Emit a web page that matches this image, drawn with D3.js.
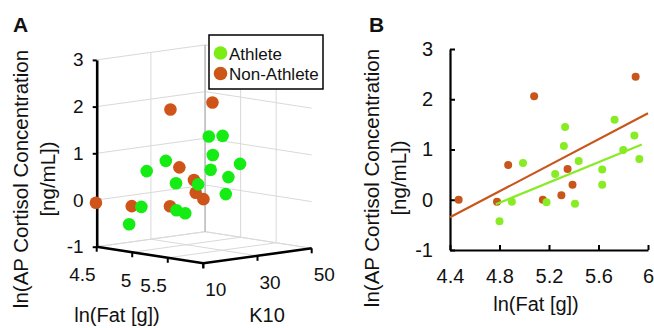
<!DOCTYPE html>
<html>
<head>
<meta charset="utf-8">
<script src="https://cdn.jsdelivr.net/npm/d3@7"></script>
<style>
  body { margin: 0; background: #fff; }
  text { font-family: "Liberation Sans", Arial, sans-serif; fill: #111; }
</style>
</head>
<body>
<div id="chart"></div>
<script>
// panel B data (ln fat, ln cortisol)
const athleteFat = [4.80, 4.90, 4.99, 5.18, 5.25, 5.32, 5.33, 5.41, 5.44, 5.63, 5.63, 5.73, 5.80, 5.89, 5.93];
const athleteCort = [-0.43, -0.04, 0.73, -0.05, 0.51, 1.07, 1.45, -0.08, 0.77, 0.60, 0.30, 1.59, 0.99, 1.28, 0.81];
const nonAthleteFat = [4.47, 4.78, 4.87, 5.08, 5.15, 5.30, 5.35, 5.39, 5.90];
const nonAthleteCort = [0.00, -0.04, 0.69, 2.06, 0.00, 0.09, 0.61, 0.30, 2.45];

// panel A data (same subjects, with K10 score)
const athleteK10 = [14.1, 16.0, 15.6, 21.6, 19.6, 14.0, 29.6, 18.8, 27.4, 17.8, 28.0, 24.2, 28.8, 16.4, 21.1];
const athleteCort3d = [-0.48, -0.10, 0.69, -0.15, 0.46, 1.00, 1.40, -0.14, 0.73, 0.54, 0.25, 1.55, 0.93, 1.24, 0.74];
const nonAthleteK10 = [10.5, 15.6, 30.8, 22.0, 20.0, 28.4, 23.6, 23.2, 16.0];
const nonAthleteCort3d = [-0.07, -0.11, 0.62, 1.98, -0.06, 0.06, 0.52, 0.26, 2.37];

// fitted lines, end points
const athleteFitX = [4.77, 5.95];
const athleteFitY = [-0.09, 1.10];
const nonAthleteFitX = [4.40, 6.00];
const nonAthleteFitY = [-0.35, 1.72];

const cortTicks = [-1, 0, 1, 2, 3];
const fatTicks3d = [4.5, 5, 5.5, 6];
const fatTickLabels3d = ["4.5", "5", "5.5", ""];
const k10Ticks = [10, 30, 50];
const fatTicksB = [4.4, 4.8, 5.2, 5.6, 6];
const legendLabels = ["Athlete", "Non-Athlete"];

const cGreenA = "#14ec14", cOrangeA = "#cf5419", cGreenB = "#88ec24", cOrangeB = "#c8561a";
const cLegend = ["#7aee12", "#cc5518"];

const svg = d3.select("#chart").append("svg")
    .attr("width", 654).attr("height", 328);

// ---------- panel A : 3D scatter ----------
const uScale = d3.scaleLinear().domain([4.5, 6]).range([0, 1]);
const vScale = d3.scaleLinear().domain([10, 50]).range([0, 1]);
const zScale = d3.scaleLinear().domain([-1, 3]).range([246.7, 59.9]);

function proj(f, k, c) {
    const u = uScale(f), v = vScale(k);
    return [96.7 + 106.6 * u + 108.4 * v, zScale(c) + 16.6 * u - 15 * v];
}
const line3d = pts => "M" + pts.map(p => proj(p[0], p[1], p[2]).join(",")).join("L");
const plain = d => String(d);   // hyphen minus, like the original

const gA = svg.append("g");
const grid = gA.append("g").attr("fill", "none").attr("stroke", "#d9d9d9").attr("stroke-width", 1);

// back walls and floor grid
cortTicks.forEach(c => {
    grid.append("path").attr("d", line3d([[4.5, 10, c], [4.5, 50, c], [6, 50, c]]));
});
k10Ticks.forEach(k => {
    grid.append("path").attr("d", line3d([[4.5, k, -1], [4.5, k, 3]]));
    grid.append("path").attr("d", line3d([[4.5, k, -1], [6, k, -1]]));
});
fatTicks3d.slice(1, 3).forEach(f => {
    grid.append("path").attr("d", line3d([[f, 50, -1], [f, 50, 3]]));
});
fatTicks3d.forEach(f => {
    grid.append("path").attr("d", line3d([[f, 10, -1], [f, 50, -1]]));
});
grid.append("path").attr("d", line3d([[4.5, 50, -1], [4.5, 50, 3]]))
    .attr("stroke", "#bcbcbc").attr("stroke-width", 1.5);

// z axis
const zAxis = d3.axisLeft(zScale).tickValues(cortTicks).tickFormat(plain)
    .tickSize(4).tickSizeOuter(0).tickPadding(9);
const zg = gA.append("g").attr("transform", "translate(96.7,0)").call(zAxis);
zg.select(".domain").attr("stroke", "#000").attr("stroke-width", 2.6);
zg.selectAll(".tick line").attr("stroke", "#000").attr("stroke-width", 2);
zg.selectAll("text").style("font-size", "19px").attr("fill", "#222")
    .style("font-family", "Liberation Sans, Arial, sans-serif");

// floor edges
gA.append("path").attr("d", line3d([[4.5, 10, -1], [6, 10, -1], [6, 50, -1]]))
    .attr("fill", "none").attr("stroke", "#000").attr("stroke-width", 2.6).attr("stroke-linejoin", "miter");

fatTicks3d.forEach((f, i) => {
    const p = proj(f, 10, -1);
    gA.append("line").attr("x1", p[0]).attr("y1", p[1]).attr("x2", p[0]).attr("y2", p[1] + 5)
        .attr("stroke", "#000").attr("stroke-width", 2);
    gA.append("text").attr("x", p[0] - 1).attr("y", p[1] + 34.5).attr("text-anchor", "end")
        .style("font-size", "19px").attr("fill", "#222").text(fatTickLabels3d[i]);
});
k10Ticks.forEach(k => {
    const p = proj(6, k, -1);
    gA.append("line").attr("x1", p[0]).attr("y1", p[1]).attr("x2", p[0]).attr("y2", p[1] + 5)
        .attr("stroke", "#000").attr("stroke-width", 2);
    gA.append("text").attr("x", p[0] + 2).attr("y", p[1] + 33).attr("text-anchor", "start")
        .style("font-size", "19px").attr("fill", "#222").text(k);
});

// points: non-athletes drawn first
const nonA = nonAthleteFat.map((f, i) => proj(f, nonAthleteK10[i], nonAthleteCort3d[i]));
const athA = athleteFat.map((f, i) => proj(f, athleteK10[i], athleteCort3d[i]));
gA.append("g").selectAll("circle").data(nonA).enter().append("circle")
    .attr("cx", d => d[0]).attr("cy", d => d[1]).attr("r", 6.3).attr("fill", cOrangeA);
gA.append("g").selectAll("circle").data(athA).enter().append("circle")
    .attr("cx", d => d[0]).attr("cy", d => d[1]).attr("r", 6.3).attr("fill", cGreenA);

// legend
const leg = gA.append("g");
leg.append("rect").attr("x", 209).attr("y", 35).attr("width", 114).attr("height", 54)
    .attr("fill", "#fff").attr("stroke", "#000").attr("stroke-width", 1.5);
legendLabels.forEach((t, i) => {
    leg.append("circle").attr("cx", 220.5).attr("cy", 53 + i * 20.5).attr("r", 6.8).attr("fill", cLegend[i]);
    leg.append("text").attr("x", 229).attr("y", 59.5 + i * 20.5).style("font-size", "17px").text(t);
});

// axis titles A
gA.append("text").attr("x", 117).attr("y", 322).attr("text-anchor", "middle").style("font-size", "20px").text("ln(Fat [g])");
gA.append("text").attr("x", 267).attr("y", 322).attr("text-anchor", "middle").style("font-size", "20px").text("K10");
const ylA = gA.append("text").attr("transform", "translate(28,179) rotate(-90)")
    .attr("text-anchor", "middle").style("font-size", "20.5px");
ylA.append("tspan").attr("x", 0).attr("dy", 0).text("ln(AP Cortisol Concentration");
ylA.append("tspan").attr("x", 0).attr("dy", 27).text("[ng/mL])");
svg.append("text").attr("x", 13).attr("y", 32).style("font-size", "21px").style("font-weight", "bold").text("A");

// ---------- panel B : 2D scatter ----------
const x = d3.scaleLinear().domain([4.4, 6]).range([450, 648]);
const y = d3.scaleLinear().domain([-1, 3]).range([250, 49]);
const gB = svg.append("g");

const xAxis = d3.axisBottom(x).tickValues(fatTicksB).tickFormat(plain).tickSizeInner(-5).tickSizeOuter(0).tickPadding(19);
const yAxis = d3.axisLeft(y).tickValues(cortTicks).tickFormat(plain).tickSizeInner(-5).tickSizeOuter(0).tickPadding(17);
const xg = gB.append("g").attr("transform", "translate(0,250)").call(xAxis);
const yg = gB.append("g").attr("transform", "translate(450,0)").call(yAxis);
[xg, yg].forEach(g => {
    g.select(".domain").attr("stroke", "#000").attr("stroke-width", 2.2);
    g.selectAll(".tick line").attr("stroke", "#000").attr("stroke-width", 2);
    g.selectAll("text").style("font-size", "20px").attr("fill", "#222")
        .style("font-family", "Liberation Sans, Arial, sans-serif");
});

gB.append("g").selectAll("circle").data(nonAthleteFat).enter().append("circle")
    .attr("cx", d => x(d)).attr("cy", (d, i) => y(nonAthleteCort[i])).attr("r", 4).attr("fill", cOrangeB);
gB.append("g").selectAll("circle").data(athleteFat).enter().append("circle")
    .attr("cx", d => x(d)).attr("cy", (d, i) => y(athleteCort[i])).attr("r", 4).attr("fill", cGreenB);

const fitLine = d3.line().x(d => x(d[0])).y(d => y(d[1]));
gB.append("path").attr("d", fitLine(nonAthleteFitX.map((v, i) => [v, nonAthleteFitY[i]])))
    .attr("fill", "none").attr("stroke", cOrangeB).attr("stroke-width", 2.2);
gB.append("path").attr("d", fitLine(athleteFitX.map((v, i) => [v, athleteFitY[i]])))
    .attr("fill", "none").attr("stroke", cGreenB).attr("stroke-width", 2.2);

gB.append("text").attr("x", 536).attr("y", 311).attr("text-anchor", "middle").style("font-size", "20px").text("ln(Fat [g])");
const ylB = gB.append("text").attr("transform", "translate(379,178) rotate(-90)")
    .attr("text-anchor", "middle").style("font-size", "20.5px");
ylB.append("tspan").attr("x", 0).attr("dy", 0).text("ln(AP Cortisol Concentration");
ylB.append("tspan").attr("x", 0).attr("dy", 27).text("[ng/mL])");
svg.append("text").attr("x", 369).attr("y", 32).style("font-size", "21px").style("font-weight", "bold").text("B");
</script>
</body>
</html>
